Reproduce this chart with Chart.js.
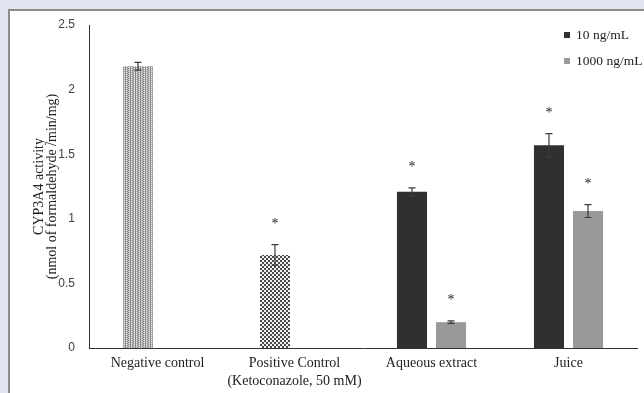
<!DOCTYPE html>
<html>
<head>
<meta charset="utf-8">
<script src="https://cdn.jsdelivr.net/npm/chart.js@4"></script>
<style>
  body { margin: 0; background: #e2e6f3; width: 644px; height: 393px; overflow: hidden; position: relative; }
  #panel { position: absolute; left: 8px; top: 9px; width: 700px; height: 400px; background: #fff;
           border-top: 2px solid #8c8c8c; border-left: 2px solid #8c8c8c; }
  #wrap { position: absolute; left: 0; top: 0; width: 644px; height: 393px; }
</style>
</head>
<body>
<div id="panel"></div>
<div id="wrap"><canvas id="grafico"></canvas></div>
<script>
  // Dati del grafico
  var categorie = ['Negative control', ['Positive Control', '(Ketoconazole, 50 mM)'], 'Aqueous extract', 'Juice'];
  var serie10 = [2.18, 0.72, 1.21, 1.57];
  var errori10 = [0.03, 0.08, 0.03, 0.09];
  var asterischi10 = [false, true, true, true];
  var serie1000 = [null, null, 0.20, 1.06];
  var errori1000 = [null, null, 0.01, 0.05];
  var asterischi1000 = [false, false, true, true];
  var tickY = [0, 0.5, 1, 1.5, 2, 2.5];

  // Crea un pattern da una piccola tessera
  function creaPattern(w, h, disegna) {
    var c = document.createElement('canvas');
    c.width = w; c.height = h;
    var g = c.getContext('2d');
    disegna(g);
    return document.getElementById('grafico').getContext('2d').createPattern(c, 'repeat');
  }

  // Controllo negativo: grigio a bande verticali con puntinatura fine
  var patternNegativo = creaPattern(10, 2, function (g) {
    g.fillStyle = '#bdbdbd'; g.fillRect(0, 0, 10, 2);
    g.fillStyle = '#868686';
    g.fillRect(0, 0, 1, 2); g.fillRect(2, 0, 1, 1); g.fillRect(3, 1, 1, 1);
    g.fillRect(5, 0, 1, 2); g.fillRect(7, 1, 1, 1); g.fillRect(8, 0, 1, 1);
    g.fillStyle = '#e6e6e6';
    g.fillRect(1, 1, 1, 1); g.fillRect(4, 0, 1, 1); g.fillRect(6, 0, 1, 1); g.fillRect(9, 1, 1, 1);
  });

  // Controllo positivo: scacchiera
  var patternPositivo = creaPattern(4, 4, function (g) {
    g.fillStyle = '#f2f2f2'; g.fillRect(0, 0, 4, 4);
    g.fillStyle = '#4a4a4a';
    g.fillRect(0, 0, 2, 2); g.fillRect(2, 2, 2, 2);
  });

  var coloriSerie10 = [patternNegativo, patternPositivo, '#303030', '#303030'];

  // Barre di errore e asterischi
  var pluginErrori = {
    id: 'errori',
    afterDatasetsDraw: function (chart) {
      var ctx = chart.ctx;
      var y = chart.scales.y;
      var gruppi = [[serie10, errori10, asterischi10], [serie1000, errori1000, asterischi1000]];
      ctx.save();
      gruppi.forEach(function (gr, d) {
        var meta = chart.getDatasetMeta(d);
        gr[0].forEach(function (v, i) {
          if (v === null) return;
          var x = meta.data[i].x;
          var alto = y.getPixelForValue(v + gr[1][i]);
          var basso = y.getPixelForValue(v - gr[1][i]);
          ctx.strokeStyle = '#3c3c3c';
          ctx.lineWidth = 1.2;
          ctx.beginPath();
          ctx.moveTo(x, alto); ctx.lineTo(x, basso);
          ctx.moveTo(x - 3.5, alto); ctx.lineTo(x + 3.5, alto);
          ctx.moveTo(x - 3.5, basso); ctx.lineTo(x + 3.5, basso);
          ctx.stroke();
          if (gr[2][i]) {
            ctx.fillStyle = '#222';
            ctx.font = '14px "Liberation Serif"';
            ctx.textAlign = 'center';
            ctx.textBaseline = 'alphabetic';
            ctx.fillText('*', x, alto - 17);
          }
        });
      });
      ctx.restore();
    }
  };

  // Legenda disegnata in alto a destra
  var pluginLegenda = {
    id: 'legendaManuale',
    afterDraw: function (chart) {
      var ctx = chart.ctx;
      var voci = [['10 ng/mL', '#303030'], ['1000 ng/mL', '#999999']];
      ctx.save();
      ctx.font = '13.5px "Liberation Serif"';
      ctx.textBaseline = 'middle';
      ctx.textAlign = 'left';
      voci.forEach(function (v, i) {
        var yy = 35 + i * 26;
        ctx.fillStyle = v[1];
        ctx.fillRect(564, yy - 3, 6, 6);
        ctx.fillStyle = '#222';
        ctx.fillText(v[0], 576, yy);
      });
      ctx.restore();
    }
  };

  var dati = {
    labels: categorie,
    datasets: [{
      label: '10 ng/mL',
      data: serie10,
      backgroundColor: coloriSerie10,
      borderWidth: 0
    }, {
      label: '1000 ng/mL',
      data: serie1000,
      backgroundColor: '#999999',
      borderWidth: 0
    }]
  };

  var opzioni = {
    responsive: false,
    animation: false,
    layout: { padding: { left: 31, top: 25, right: 7, bottom: 0 } },
    plugins: { legend: { display: false }, tooltip: { enabled: false } },
    datasets: { bar: { categoryPercentage: 0.57, barPercentage: 0.77 } },
    scales: {
      x: {
        grid: { display: false, drawTicks: false },
        border: { display: true, color: '#333', width: 1 },
        ticks: {
          color: '#222',
          padding: 6,
          maxRotation: 0,
          autoSkip: false,
          font: { family: 'Liberation Serif', size: 14, lineHeight: 1.3 }
        },
        afterFit: function (s) { s.height = 45; }
      },
      y: {
        min: 0,
        max: 2.5,
        afterBuildTicks: function (s) { s.ticks = tickY.map(function (v) { return { value: v }; }); },
        grid: { display: false, drawTicks: false },
        border: { display: true, color: '#333', width: 1 },
        ticks: {
          color: '#404040',
          padding: 14,
          font: { family: 'Liberation Sans', size: 12 },
          callback: function (v) { return String(v); }
        },
        title: {
          display: true,
          text: ['CYP3A4 activity', '(nmol of formaldehyde /min/mg)'],
          color: '#222',
          font: { family: 'Liberation Serif', size: 14, lineHeight: 0.92 },
          padding: { top: 2, bottom: 0 }
        },
        afterFit: function (s) { s.width = 58; }
      }
    }
  };

  var canvas = document.getElementById('grafico');
  canvas.width = 644;
  canvas.height = 393;
  var grafico = new Chart(canvas.getContext('2d'), {
    type: 'bar',
    data: dati,
    options: opzioni,
    plugins: [pluginErrori, pluginLegenda]
  });
</script>
</body>
</html>
